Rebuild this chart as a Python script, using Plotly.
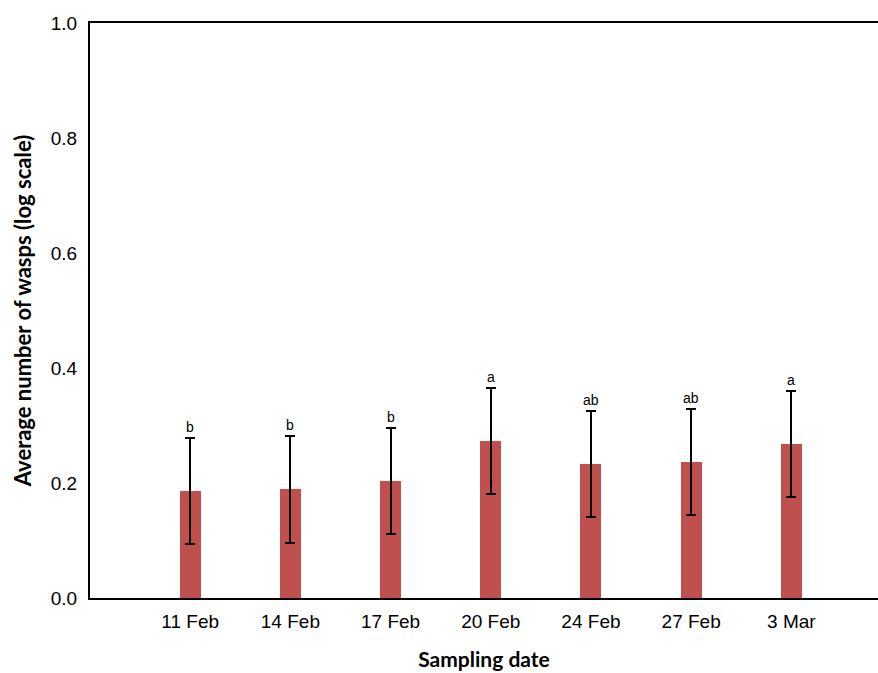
import plotly.graph_objects as go

# Sampling dates and mean wasp counts (log scale) with their error margins
dates = ["11 Feb", "14 Feb", "17 Feb", "20 Feb", "24 Feb", "27 Feb", "3 Mar"]
means = [0.186, 0.189, 0.203, 0.273, 0.233, 0.237, 0.268]
errors = [0.092, 0.093, 0.092, 0.092, 0.092, 0.092, 0.092]
groups = ["b", "b", "b", "a", "ab", "ab", "a"]

positions = list(range(len(dates)))

fig = go.Figure()
fig.add_trace(go.Bar(
    x=positions,
    y=means,
    width=0.21,
    marker=dict(color="#C0504D", line=dict(width=0)),
    error_y=dict(type="data", array=errors, visible=True,
                 color="black", thickness=2, width=5),
    showlegend=False,
))

# significance letters above each error bar
for p, m, e, g in zip(positions, means, errors, groups):
    fig.add_annotation(x=p, y=m + e, text=g, showarrow=False,
                       yanchor="bottom", yshift=1,
                       font=dict(family="Liberation Sans, Arial", size=14, color="black"))

fig.update_layout(
    width=878, height=673,
    margin=dict(l=90, r=0, t=23, b=75),
    plot_bgcolor="white", paper_bgcolor="white",
    bargap=0,
    font=dict(family="Liberation Sans, Arial", size=18, color="black"),
)

fig.update_xaxes(
    range=[-1, 6.865],
    tickmode="array", tickvals=positions, ticktext=dates,
    showline=True, linecolor="black", linewidth=2, mirror=True,
    showgrid=False, zeroline=False, ticks="", ticklabelstandoff=5,
    tickfont=dict(size=19),
    title=dict(text="<b>Sampling date</b>", standoff=22,
               font=dict(family="Lato, Open Sans", size=21)),
)
fig.update_yaxes(
    range=[0, 1], tickvals=[0, 0.2, 0.4, 0.6, 0.8, 1.0], tickformat=".1f",
    showline=True, linecolor="black", linewidth=2,
    showgrid=False, zeroline=False, ticks="", ticklabelstandoff=7,
    tickfont=dict(size=19),
    title=dict(text="<b>Average number of wasps (log scale)</b>", standoff=13,
               font=dict(family="Lato, Open Sans", size=22)),
)

fig.write_html("out.html")
